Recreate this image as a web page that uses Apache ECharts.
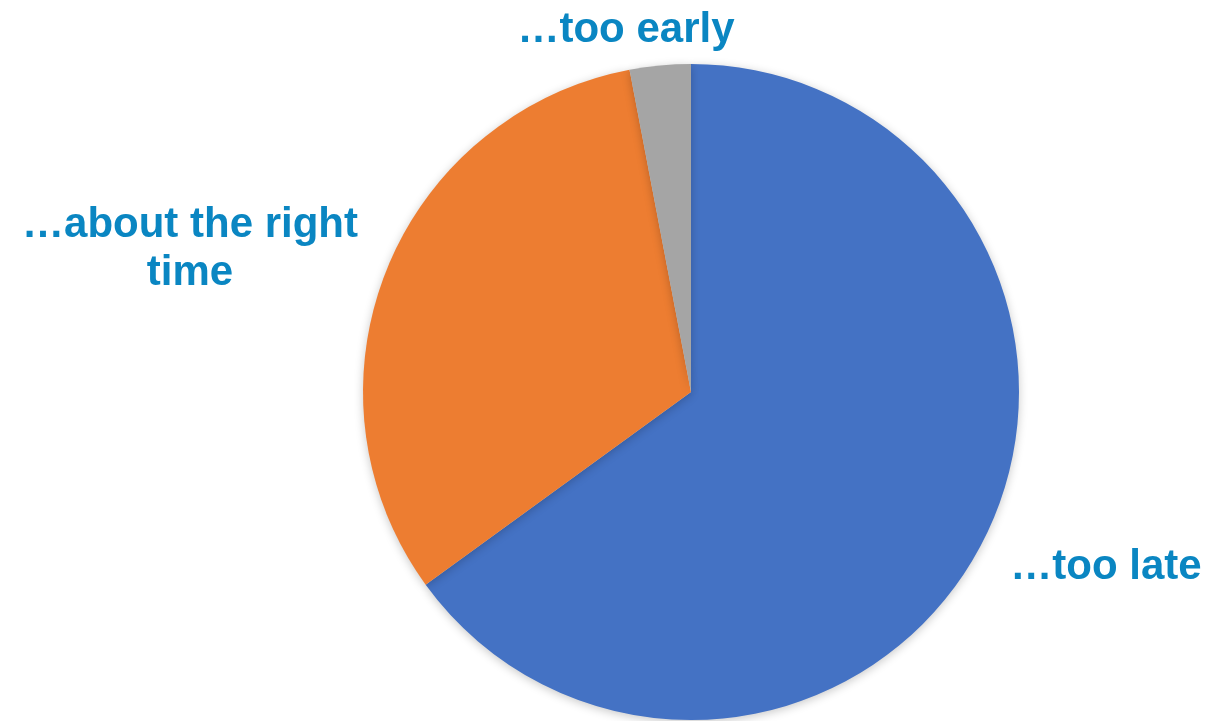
<!DOCTYPE html>
<html>
<head>
<meta charset="utf-8">
<script src="https://cdn.jsdelivr.net/npm/echarts@6/dist/echarts.min.js"></script>
<style>
  * { margin: 0; padding: 0; }
  body { background: #fff; }
</style>
</head>
<body>
<!-- container for the pie -->
<div id="main" style="width:1207px;height:721px;background:white;"></div>
<script>
var categories = ["…too late", "…about the right\ntime", "…too early"];
var shares = [65, 32, 3];
var colors = ["#4472C4", "#ED7D31", "#A5A5A5"];

// where each label sits (centre of text)
var labelPos = [[1106, 567], [190, 249], [626, 30]];

var chart = echarts.init(document.getElementById("main"));
chart.setOption({
  animation: false,
  series: [
    {
      type: "pie",
      center: [691, 392],
      radius: 328,
      startAngle: 90,
      clockwise: true,
      data: categories.map(function (c, i) {
        return { name: c, value: shares[i], itemStyle: { color: colors[i] } };
      }),
      itemStyle: {
        shadowBlur: 10,
        shadowColor: "rgba(0,0,0,0.22)",
        shadowOffsetX: 0,
        shadowOffsetY: 2
      },
      label: {
        show: true,
        position: "outside",
        color: "#0A86C2",
        fontFamily: "Liberation Sans",
        fontWeight: "bold",
        fontSize: 42,
        lineHeight: 48,
        align: "center",
        overflow: "none",
        width: 400
      },
      labelLine: { show: false },
      labelLayout: function (params) {
        var p = labelPos[params.dataIndex];
        return { x: p[0], y: p[1], align: "center", verticalAlign: "middle" };
      }
    }
  ]
});
</script>
</body>
</html>
